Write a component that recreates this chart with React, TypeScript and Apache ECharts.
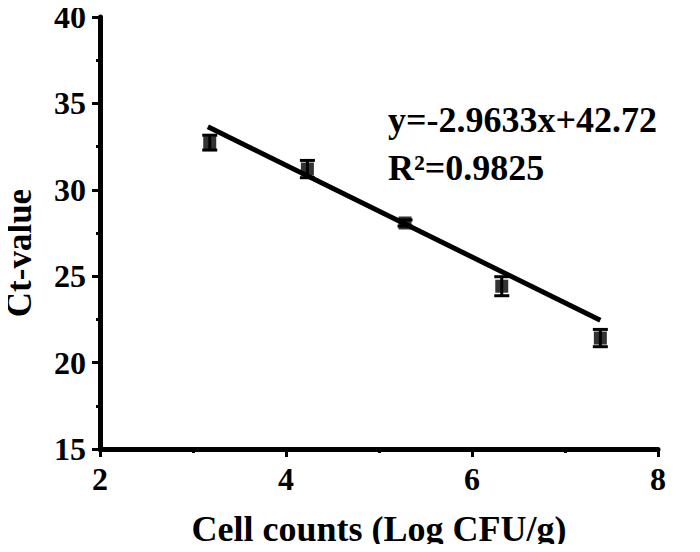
import React, { useEffect, useRef } from "react";
import * as echarts from "echarts";

const cellCounts = [3.18, 4.23, 5.28, 6.32, 7.38];
const ctValues = [32.73, 31.2, 28.08, 24.42, 21.42];
const ctErrors = [0.43, 0.5, 0.18, 0.55, 0.5];
const fitX = [3.16, 7.38];
const fitY = [33.65, 22.45];
const equationText = "y=-2.9633x+42.72";
const r2Text = "R²=0.9825";

const FONT = "'Liberation Serif', 'Times New Roman', serif";

export default function App() {
  const ref = useRef<HTMLDivElement>(null);
  useEffect(() => {
    if (!ref.current) return;
    const chart = echarts.init(ref.current, null, { renderer: "svg" });
    const points = cellCounts.map((x, i) => [x, ctValues[i]]);
    const errData = cellCounts.map((x, i) => [x, ctValues[i] - ctErrors[i], ctValues[i] + ctErrors[i]]);
    const axisCommon = {
      axisLine: { show: true, lineStyle: { color: "#000", width: 5 } },
      axisTick: { show: true, inside: false, length: 8, lineStyle: { color: "#000", width: 3 } },
      minorTick: { show: true, splitNumber: 2, length: 4, lineStyle: { color: "#000", width: 3 } },
      splitLine: { show: false },
      axisLabel: { color: "#000", fontFamily: FONT, fontWeight: "bold", fontSize: 32 },
    };
    chart.setOption({
      animation: false,
      backgroundColor: "#fff",
      grid: { left: 100, right: 42, top: 17, bottom: 102, containLabel: false },
      xAxis: {
        type: "value",
        min: 2,
        max: 8,
        interval: 2,
        ...axisCommon,
        axisLabel: { ...axisCommon.axisLabel, margin: 14 },
        name: "Cell counts (Log CFU/g)",
        nameLocation: "middle",
        nameGap: 62,
        nameTextStyle: { color: "#000", fontFamily: FONT, fontWeight: "bold", fontSize: 36 },
      },
      yAxis: {
        type: "value",
        min: 15,
        max: 40,
        interval: 5,
        ...axisCommon,
        axisLabel: { ...axisCommon.axisLabel, margin: 14 },
      },
      graphic: [
        {
          type: "text",
          rotation: Math.PI / 2,
          x: 19,
          y: 253,
          style: {
            text: "Ct-value",
            fill: "#000",
            font: `bold 35px ${FONT}`,
            align: "center",
            verticalAlign: "middle",
          },
        },
        {
          type: "text",
          x: 388,
          y: 96,
          style: {
            text: `${equationText}\n${r2Text}`,
            fill: "#000",
            font: `bold 36px ${FONT}`,
            lineHeight: 48,
          },
        },
      ],
      series: [
        {
          type: "line",
          data: fitX.map((x, i) => [x, fitY[i]]),
          symbol: "none",
          lineStyle: { color: "#000", width: 5 },
          z: 3,
        },
        {
          type: "custom",
          data: errData,
          encode: { x: 0, y: [1, 2] },
          renderItem: (params: any, api: any) => {
            const x = api.value(0);
            const lo = api.coord([x, api.value(1)]);
            const hi = api.coord([x, api.value(2)]);
            const half = 7.5;
            const st = { stroke: "#000", lineWidth: 3 };
            return {
              type: "group",
              children: [
                { type: "line", shape: { x1: lo[0], y1: lo[1], x2: hi[0], y2: hi[1] }, style: st },
                { type: "line", shape: { x1: lo[0] - half, y1: lo[1], x2: lo[0] + half, y2: lo[1] }, style: st },
                { type: "line", shape: { x1: hi[0] - half, y1: hi[1], x2: hi[0] + half, y2: hi[1] }, style: st },
              ],
            };
          },
          z: 4,
        },
        {
          type: "scatter",
          data: points,
          symbol: "rect",
          symbolSize: 13,
          itemStyle: { color: "#000" },
          z: 5,
        },
      ],
    });
    return () => chart.dispose();
  }, []);
  return <div ref={ref} style={{ width: 700, height: 552, margin: -8 }} />;
}
